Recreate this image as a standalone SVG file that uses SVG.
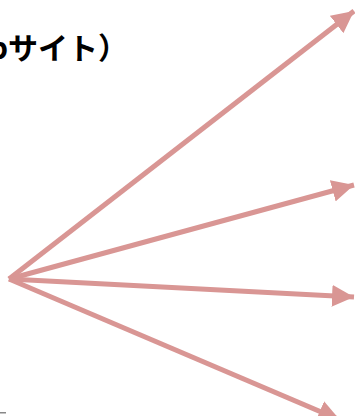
<svg xmlns="http://www.w3.org/2000/svg" width="355" height="416" viewBox="0 0 355 416">
<defs>
<style>
.arr{stroke:#d99694;stroke-width:5;fill:none;marker-end:url(#ah)}
.title{font-family:"Noto Sans CJK JP","Noto Sans",sans-serif;font-weight:bold;font-size:30px;fill:#000}
</style>
<marker id="ah" markerUnits="userSpaceOnUse" markerWidth="24" markerHeight="22" refX="22" refY="11" orient="auto">
<path d="M0,0 L22,11 L0,22 Z" fill="#d99694"/>
</marker>
</defs>
<rect width="355" height="416" fill="#fff"/>
<g id="title"><text class="title" x="128" y="59" text-anchor="end">Webサイト）</text></g>
<g id="connectors">
<line class="arr" x1="9" y1="279" x2="354" y2="11"/>
<line class="arr" x1="9" y1="279" x2="354" y2="185"/>
<line class="arr" x1="9" y1="279" x2="354" y2="297"/>
<line class="arr" x1="9" y1="279" x2="340" y2="420"/>
</g>
<rect x="0" y="412" width="6" height="1.5" fill="#888"/>
</svg>
